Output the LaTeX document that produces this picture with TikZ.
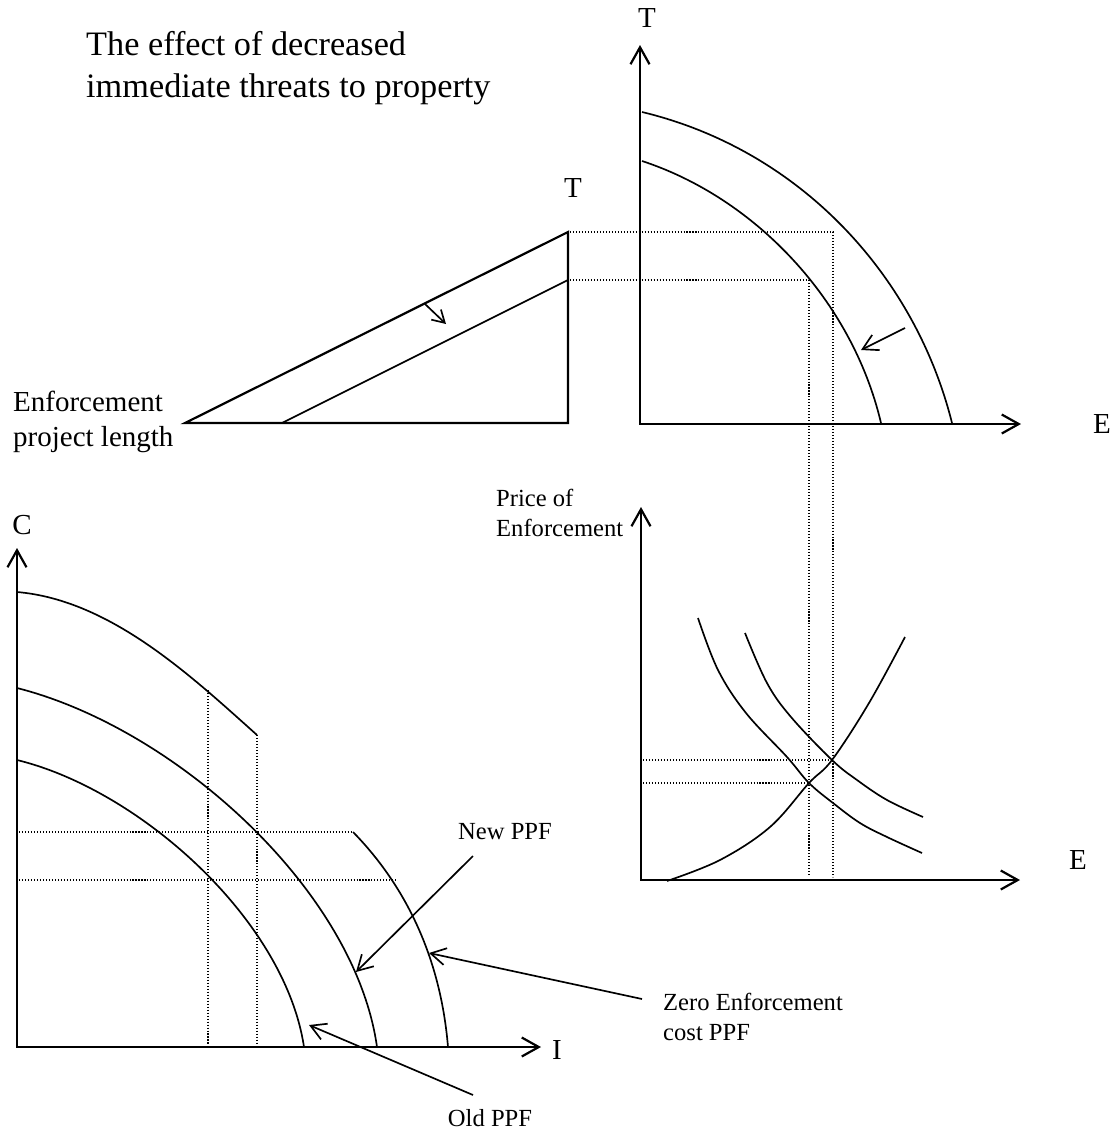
\documentclass[tikz,border=0pt]{standalone}
\usepackage{fontspec}
\setmainfont{Liberation Serif}
\usetikzlibrary{arrows.meta}
\tikzset{
  axis/.style={line width=1.25pt, line join=miter,
               {Straight Barb[length=3.4mm,width=3.8mm]}-{Straight Barb[length=3.4mm,width=3.8mm]}},
  frame/.style={line width=1.25pt, line join=miter},
  curve/.style={line width=0.95pt},
  guide/.style={line width=0.6pt, dash pattern=on 0.6pt off 1.1pt},
  pointer/.style={line width=0.95pt, -{Straight Barb[length=3mm,width=3.4mm]}},
  shiftarrow/.style={line width=0.95pt, -{Straight Barb[length=2.4mm,width=2.8mm]}},
  title/.style={font=\fontsize{19.5}{23.5}\selectfont, align=left},
  axlabel/.style={font=\fontsize{16.5}{20}\selectfont, align=left},
  note/.style={font=\fontsize{14}{17}\selectfont, align=left},
}
\begin{document}
\begin{tikzpicture}[x=0.02cm, y=-0.02cm]
\useasboundingbox (0,0) rectangle (1119,1133);

\node[title, anchor=west] (ttl) at (80,68) {The effect of decreased\\immediate threats to property};

% top left: enforcement project length
\node[axlabel, anchor=west] (epl) at (7,422) {Enforcement\\project length};
\node[axlabel] (tri-T) at (573,188) {T};
\draw[frame] (185,423) -- (568,423) -- (568,232) -- cycle;
\draw[curve] (282,423) -- (568,280);
\coordinate (tri-from) at (425,304);
\coordinate (tri-to) at (446,324);
\draw[shiftarrow] (tri-from) -- (tri-to);

% top right: T against E
\node[axlabel] (te-T) at (647,18) {T};
\node[axlabel] (te-E) at (1102,424) {E};
\coordinate (te-top) at (640,45);
\coordinate (te-O) at (640,424);
\coordinate (te-right) at (1021,424);
\draw[axis] (te-top) -- (te-O) -- (te-right);
\draw[curve] (642,112) .. controls (800,150) and (915,275) .. (952,423);
\draw[curve] (642,161) .. controls (755,198) and (852,300) .. (881,423);
\coordinate (te-from) at (905,328);
\coordinate (te-to) at (861,350);
\draw[pointer] (te-from) -- (te-to);

% guides between the panels
\draw[guide] (570,232) -- (833,232) -- (833,877);
\draw[guide] (570,280) -- (809,280) -- (809,877);

% price of enforcement
\node[note, anchor=west] (pe) at (490,513) {Price of\\Enforcement};
\node[axlabel] (pe-E) at (1078,860) {E};
\coordinate (pe-top) at (641,507);
\coordinate (pe-O) at (641,880);
\coordinate (pe-right) at (1020,880);
\draw[axis] (pe-top) -- (pe-O) -- (pe-right);
\draw[curve] plot[smooth, tension=0.6] coordinates {(698,618) (718,670) (746,713) (787,757) (809,783) (833,803) (860,823) (887,837) (922,853)};
\draw[curve] plot[smooth, tension=0.6] coordinates {(745,633) (767,683) (791,717) (832,760) (857,780) (887,800) (923,817)};
\draw[curve] plot[smooth, tension=0.6] coordinates {(667,881) (720,860) (770,827) (809,783) (832,760) (869,703) (905,637)};
\draw[guide] (643,760) -- (833,760);
\draw[guide] (643,783) -- (809,783);

% bottom left: C against I
\node[axlabel] (ci-C) at (22,525) {C};
\node[axlabel] (ci-I) at (557,1050) {I};
\coordinate (ci-top) at (17,548);
\coordinate (ci-O) at (17,1047);
\coordinate (ci-right) at (541,1047);
\draw[axis] (ci-top) -- (ci-O) -- (ci-right);
\draw[curve] (17,592) .. controls (110,600) and (190,675) .. (257,735);
\draw[curve] (353,832) .. controls (400,880) and (440,950) .. (448,1047);
\draw[curve] (17,688) .. controls (175,728) and (355,890) .. (377,1047);
\draw[curve] (17,760) .. controls (140,790) and (285,920) .. (304,1047);
\draw[guide] (208,690) -- (208,1045);
\draw[guide] (257,735) -- (257,1045);
\draw[guide] (19,832) -- (353,832);
\draw[guide] (19,880) -- (398,880);

\node[note] (newppf) at (505,832) {New PPF};
\coordinate (new-from) at (473,856);
\coordinate (new-to) at (356,972);
\draw[pointer] (new-from) -- (new-to);

\node[note, anchor=west] (zeroppf) at (657,1017) {Zero Enforcement\\cost PPF};
\coordinate (zero-from) at (642,999);
\coordinate (zero-to) at (429,953);
\draw[pointer] (zero-from) -- (zero-to);

\node[note] (oldppf) at (490,1118) {Old PPF};
\coordinate (old-from) at (473,1095);
\coordinate (old-to) at (309,1025);
\draw[pointer] (old-from) -- (old-to);

\end{tikzpicture}
\end{document}
